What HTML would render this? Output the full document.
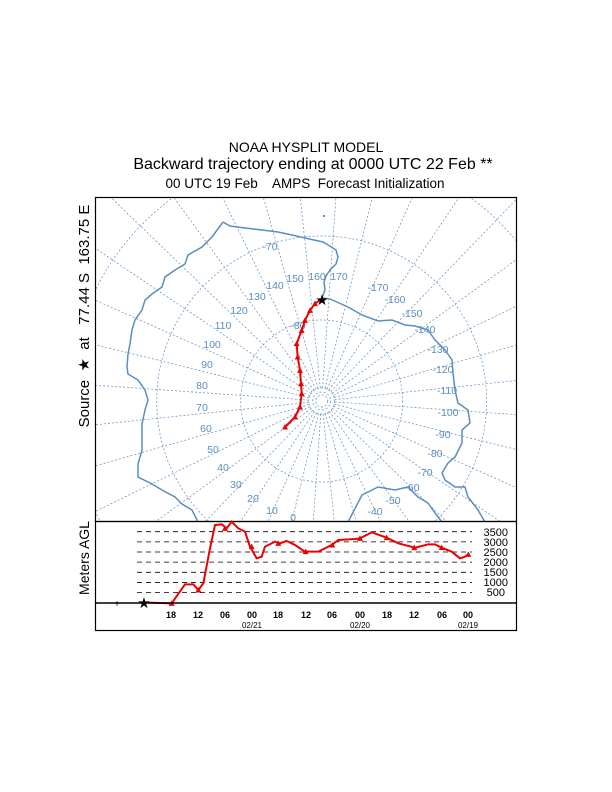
<!DOCTYPE html>
<html><head><meta charset="utf-8"><style>
html,body{margin:0;padding:0;background:#fff;width:612px;height:792px;overflow:hidden}
svg{display:block;overflow:hidden}
text{font-family:"Liberation Sans",sans-serif;white-space:pre}
</style></head><body>
<svg id="s" width="612" height="792" viewBox="0 0 612 792" xmlns="http://www.w3.org/2000/svg">
<defs><clipPath id="mc"><rect x="95" y="197" width="421" height="324"/></clipPath></defs>
<text x="306" y="152" font-size="14" text-anchor="middle">NOAA HYSPLIT MODEL</text>
<text x="313" y="169" font-size="16" text-anchor="middle">Backward trajectory ending at 0000 UTC 22 Feb **</text>
<text x="305" y="188" font-size="13.5" text-anchor="middle" xml:space="preserve">00 UTC 19 Feb    AMPS  Forecast Initialization</text>
<text transform="translate(89,316) rotate(-90)" font-size="15" text-anchor="middle" xml:space="preserve">Source  ★  at   77.44 S  163.75 E</text>
<text transform="translate(89,558) rotate(-90)" font-size="14" text-anchor="middle">Meters AGL</text>
<g clip-path="url(#mc)" id="grid" fill="none" stroke="#5b8dbf" stroke-width="0.7" stroke-dasharray="2,2"></g>
<g clip-path="url(#mc)" fill="none" stroke="#5b8dbf" stroke-width="1.5">
<polyline points="223,222 212,237 202,247 188,255 185,264 175,270 165,277 162,287 152,294 145,300 142,310 135,320 132,330 130,344 128,354 127,367 128,374 138,380 145,390 148,400 145,410 142,424 142,437 142,450 138,464 138,477 152,484 162,490 175,497 182,504 192,510 198,522"/>
<polyline points="223,222 230,226 245,228 262,230 278,232 292,235 305,238 314,240 323,242 328,245 336,250 338,257 336,264 330,270 326,276 324,282 325,290 322,298 330,299 348,307 362,315 378,321 392,320 405,325 415,326 428,330 435,340 445,350 452,360 453,373 455,390 458,403 468,410 470,423 462,430 462,443 455,457 448,463 442,473 445,480 455,487 465,487 468,497 478,510 485,522"/>
<polyline points="348,522 362,495 378,487 395,490 408,487 418,497 428,503 435,513 442,522"/>
</g>
<g fill="#5b8dbf" font-size="10.5" text-anchor="middle">
<text x="270" y="250">-70</text><text x="295" y="282">150</text><text x="317" y="280">160</text><text x="339" y="280">170</text>
<text x="275" y="289">140</text><text x="257" y="300">130</text><text x="239" y="314">120</text><text x="223" y="329">110</text>
<text x="212" y="348">100</text><text x="207" y="368">90</text><text x="202" y="389">80</text><text x="202" y="411">70</text>
<text x="206" y="432">60</text><text x="213" y="453">50</text><text x="223" y="471">40</text><text x="236" y="488">30</text>
<text x="253" y="502">20</text><text x="272" y="514">10</text><text x="293" y="521">0</text>
<text x="378" y="291">-170</text><text x="395" y="303">-160</text><text x="412" y="317">-150</text><text x="425" y="333">-140</text>
<text x="438" y="353">-130</text><text x="443" y="373">-120</text><text x="447" y="394">-110</text><text x="448" y="416">-100</text>
<text x="443" y="438">-90</text><text x="435" y="457">-80</text><text x="425" y="476">-70</text><text x="412" y="491">-60</text>
<text x="393" y="504">-50</text><text x="375" y="515">-40</text><text x="298" y="329">-80</text>
</g>
<rect x="323" y="215" width="2" height="2" fill="#5b8dbf"/>
<g id="traj"></g>
<text x="322" y="305" font-size="15" text-anchor="middle">★</text>
<rect x="95.5" y="197.5" width="421" height="324" fill="none" stroke="#000" stroke-width="1.2"/>
<rect x="95.5" y="521.5" width="421" height="109" fill="none" stroke="#000" stroke-width="1.2"/>
<g id="low"></g>
<line x1="95" y1="603" x2="516" y2="603" stroke="#000" stroke-width="1.5"/>
<text x="117" y="607" font-size="10" text-anchor="middle">+</text>
<text x="144" y="608" font-size="15" text-anchor="middle">★</text>
<g font-size="9" text-anchor="middle" font-weight="bold">
<text x="171" y="618">18</text><text x="198" y="618">12</text><text x="225" y="618">06</text><text x="252" y="618">00</text>
<text x="278" y="618">18</text><text x="306" y="618">12</text><text x="332" y="618">06</text><text x="360" y="618">00</text>
<text x="387" y="618">18</text><text x="414" y="618">12</text><text x="442" y="618">06</text><text x="468" y="618">00</text>
<text x="252" y="628" font-weight="normal" font-size="8">02/21</text><text x="360" y="628" font-weight="normal" font-size="8">02/20</text><text x="468" y="628" font-weight="normal" font-size="8">02/19</text>
</g>
<g font-size="11" text-anchor="end">
<text x="508" y="536">3500</text><text x="508" y="546">3000</text><text x="508" y="556">2500</text><text x="508" y="566">2000</text>
<text x="508" y="576">1500</text><text x="508" y="586">1000</text><text x="505" y="596">500</text>
</g>
</svg>
<script>
var NS="http://www.w3.org/2000/svg",cx=321.7,cy=401;
function el(p,n,a){var e=document.createElementNS(NS,n);for(var k in a)e.setAttribute(k,a[k]);p.appendChild(e);return e;}
var g=document.getElementById('grid');
[6,9,13,81,165,252,345].forEach(function(r){el(g,'circle',{cx:cx,cy:cy,r:r});});
for(var l=0;l<360;l+=10){var f=(-14-l)*Math.PI/180;
el(g,'line',{x1:cx+13*Math.sin(f),y1:cy+13*Math.cos(f),x2:cx+450*Math.sin(f),y2:cy+450*Math.cos(f)});}
var t=document.getElementById('traj');
var P=[[683,303],[660,320],[645,340],[630,370],[620,400],[605,440],[608,480],[615,520],[618,560],[620,590],[615,630],[600,660],[570,690]].map(function(p){return [95+p[0]/3,197+p[1]/3];});
el(t,'polyline',{points:P.join(' '),fill:'none',stroke:'#e00',"stroke-width":2});
P.slice(1).forEach(function(p){el(t,'polygon',{points:(p[0]-3)+','+(p[1]+2.5)+' '+(p[0]+3)+','+(p[1]+2.5)+' '+p[0]+','+(p[1]-3),fill:'#e00'});});
var lo=document.getElementById('low');
for(var i=0;i<7;i++){var y=531.7+i*10.15;el(lo,'line',{x1:137,y1:y,x2:472,y2:y,stroke:'#000',"stroke-width":0.8,"stroke-dasharray":"5,4"});}
var H=[[160,263],[230,265],[270,208],[295,208],[310,225],[325,205],[345,100],[360,30],[380,28],[395,40],[410,20],[430,40],[450,50],[465,95],[485,130],[500,125],[510,95],[540,80],[555,85],[575,78],[600,90],[630,110],[670,110],[710,90],[730,75],[780,72],[795,70],[830,52],[875,68],[910,85],[960,98],[1000,88],[1020,88],[1040,98],[1070,110],[1095,130],[1110,125],[1120,118]].map(function(p){return [95+p[0]/3,515+p[1]/3];});
el(lo,'polyline',{points:H.join(' '),fill:'none',stroke:'#e00',"stroke-width":2});
[[230,265],[310,225],[390,40],[470,95],[550,85],[632,110],[712,90],[795,70],[875,68],[958,98],[1040,98],[1120,118]].forEach(function(q){var x=95+q[0]/3,y=515+q[1]/3;
el(lo,'polygon',{points:(x-3)+','+(y+2.5)+' '+(x+3)+','+(y+2.5)+' '+x+','+(y-3),fill:'#e00'});});
</script>
</body></html>
